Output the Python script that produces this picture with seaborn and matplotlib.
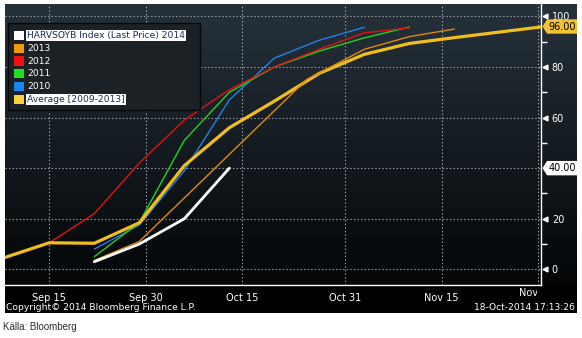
import numpy as np
import pandas as pd
import matplotlib
matplotlib.use("Agg")
import matplotlib.pyplot as plt
import matplotlib.dates as mdates
from matplotlib.patches import Rectangle, Polygon
from matplotlib.transforms import blended_transform_factory, Bbox, TransformedBbox
import seaborn as sns

# Soybean harvest progress (% harvested), each season mapped onto the 2014 calendar
dates_2014 = ["2014-09-22", "2014-09-29", "2014-10-06", "2014-10-13"]
vals_2014 = [3, 10, 20, 40]

dates_2013 = ["2014-09-22", "2014-09-29", "2014-10-25", "2014-11-03", "2014-11-10", "2014-11-17"]
vals_2013 = [3.5, 11, 75, 87, 92, 95]

dates_2012 = ["2014-09-15", "2014-09-22", "2014-09-29", "2014-10-06", "2014-10-13",
              "2014-10-20", "2014-10-27", "2014-11-03", "2014-11-10"]
vals_2012 = [10.5, 22, 42, 59, 71, 80, 87, 93.5, 95.5]

dates_2011 = ["2014-09-22", "2014-09-29", "2014-10-06", "2014-10-13", "2014-10-20",
              "2014-10-27", "2014-11-03", "2014-11-10"]
vals_2011 = [5, 18.5, 51, 70, 80, 86.3, 91.5, 95.8]

dates_2010 = ["2014-09-22", "2014-09-29", "2014-10-06", "2014-10-13", "2014-10-20",
              "2014-10-27", "2014-11-03"]
vals_2010 = [8, 17.5, 39, 67, 83.5, 90.6, 95.7]

dates_avg = ["2014-09-08", "2014-09-15", "2014-09-22", "2014-09-29", "2014-10-06",
             "2014-10-13", "2014-10-20", "2014-10-27", "2014-11-03", "2014-11-10",
             "2014-11-17", "2014-11-24", "2014-12-01"]
vals_avg = [4.6, 10.5, 10.3, 18.4, 41, 56, 66.5, 77.5, 85, 89.3, 91.6, 93.8, 96]

legend_labels = ["HARVSOYB Index (Last Price) 2014", "2013", "2012", "2011", "2010",
                 "Average [2009-2013]"]
x_tick_dates = ["2014-09-15", "2014-09-30", "2014-10-15", "2014-10-31", "2014-11-15", "2014-11-30"]
x_tick_labels = ["Sep 15", "Sep 30", "Oct 15", "Oct 31", "Nov 15", "Nov 30"]
y_ticks = [0, 20, 40, 60, 80, 100]
last_2014 = vals_2014[-1]
last_avg = vals_avg[-1]

W, H = 582, 338
sns.set_theme(style="dark")
plt.rcParams["font.family"] = ["DejaVu Sans"]

fig = plt.figure(figsize=(W / 100, H / 100), dpi=100, facecolor="white")


def fx(px):
    return px / W


def fy(py):
    return 1 - py / H


# dark terminal panel with a vertical gradient
panel_l, panel_t, panel_r, panel_b = 5, 4, 577, 313
bg = fig.add_axes([fx(panel_l), fy(panel_b), fx(panel_r - panel_l), (panel_b - panel_t) / H], zorder=-10)
rows = panel_b - panel_t
top_c = np.array([0.15, 0.195, 0.23])
bot_c = np.array([0.012, 0.02, 0.027])
grad = np.zeros((rows, 1, 3))
for r in range(rows):
    y = panel_t + r
    if y < 285:
        t = (y - panel_t) / (285 - panel_t)
        grad[r, 0] = top_c * (1 - t) + bot_c * t
    else:
        grad[r, 0] = 0.0
bg.imshow(grad, aspect="auto", extent=[0, 1, 0, 1], interpolation="bilinear")
bg.set_axis_off()

# main plotting area
ax_l, ax_r, ax_t, ax_b = 5, 540.7, 4, 285
ax = fig.add_axes([fx(ax_l), fy(ax_b), fx(ax_r - ax_l), (ax_b - ax_t) / H])
ax.set_facecolor("none")

series = [
    (dates_2010, vals_2010, "#1f82e6", 1.0, 2),
    (dates_2011, vals_2011, "#1ed21e", 1.0, 3),
    (dates_2012, vals_2012, "#e81010", 1.0, 4),
    (dates_avg, vals_avg, "#f2be1e", 2.3, 5),
    (dates_2013, vals_2013, "#e08a10", 1.0, 6),
    (dates_2014, vals_2014, "#ffffff", 2.0, 7),
]
for d, v, c, lw, z in series:
    sns.lineplot(x=pd.to_datetime(d), y=v, ax=ax, color=c, linewidth=lw,
                 estimator=None, zorder=z, solid_joinstyle="miter")

sep15 = mdates.date2num(pd.Timestamp("2014-09-15"))
ax.set_xlim(sep15 - 6.89, sep15 + 76.42)
ax.set_ylim(-6.2, 104.9)

xt = [mdates.date2num(pd.Timestamp(d)) for d in x_tick_dates]
ax.set_xticks(xt)
ax.set_xticklabels(x_tick_labels[:-1] + [""])
ax.set_yticks(y_ticks)
# the 40 label sits under the last-price tag
ax.set_yticklabels([("" if yv == last_2014 else str(yv)) for yv in y_ticks])
ax.set_yticks([10, 30, 50, 70, 90], minor=True)
ax.yaxis.tick_right()
ax.tick_params(axis="x", colors="white", labelsize=7, length=4, width=1, pad=2, direction="out")
ax.tick_params(axis="y", which="major", colors="white", labelsize=7, length=0, pad=8)
ax.tick_params(axis="y", which="minor", colors="white", length=4, width=1, direction="out")
for lab in ax.get_yticklabels():
    lab.set_color("white")
ax.set_xlabel("")
ax.set_ylabel("")

ax.grid(True, which="major", color="#a0a6aa", linestyle=(0, (1.2, 2.0)), linewidth=0.8)
ax.set_axisbelow(True)
for s in ["top", "left"]:
    ax.spines[s].set_visible(False)
for s in ["bottom", "right"]:
    ax.spines[s].set_visible(True)
    ax.spines[s].set_color("white")
    ax.spines[s].set_linewidth(1.0)

# last x label is cut by the right axis
clip = TransformedBbox(Bbox.from_extents(0, 0, fx(537), 1), fig.transFigure)
tx = fig.text(fx(536), fy(293), x_tick_labels[-1], color="white", fontsize=7,
              ha="center", va="center")
tx.set_clip_box(clip)
tx.set_clip_on(True)

# pointer marks beside the right-axis labels
bt = blended_transform_factory(fig.transFigure, ax.transData)
for yv in y_ticks:
    if yv == last_2014:
        continue
    ax.plot([fx(545)], [yv], marker="<", markersize=3.5, color="white",
            transform=bt, clip_on=False, zorder=8)


def value_tag(val, face):
    half = 7.2 / 2.53
    pts = [(fx(542.5), val), (fx(547), val + half), (fx(577), val + half),
           (fx(577), val - half), (fx(547), val - half)]
    ax.add_patch(Polygon(pts, closed=True, facecolor=face, edgecolor="none",
                         transform=bt, clip_on=False, zorder=9))
    ax.text(fx(562), val, f"{val:.2f}", transform=bt, color="black", fontsize=7,
            ha="center", va="center", zorder=10, clip_on=False)


value_tag(last_avg, "#f2c12e")
value_tag(last_2014, "#ffffff")

# legend box
lg_l, lg_t, lg_r, lg_b = 7.5, 23.5, 200, 110.5
fig.patches.append(Rectangle((fx(lg_l), fy(lg_b)), fx(lg_r - lg_l), (lg_b - lg_t) / H,
                             transform=fig.transFigure, facecolor="#1c2125",
                             edgecolor="#050708", linewidth=1.0, zorder=20))
legend_colors = ["#ffffff", "#f39a0c", "#f01010", "#1ee01e", "#1a86f0", "#f8d040"]
highlight = [True, False, False, False, False, True]
row_y = [35.3, 48.2, 61.0, 73.8, 86.6, 99.4]
for lab, col, hl, ry in zip(legend_labels, legend_colors, highlight, row_y):
    fig.patches.append(Rectangle((fx(14), fy(ry + 4.5)), fx(10), 9 / H,
                                 transform=fig.transFigure, facecolor=col,
                                 edgecolor="none", zorder=21))
    t = fig.text(fx(27), fy(ry), lab, fontsize=6.6, va="center", ha="left",
                 color="#1a2a55" if hl else "white", zorder=22)
    if hl:
        t.set_bbox(dict(facecolor="white", edgecolor="none", pad=0.6))

# footer
fig.text(fx(6), fy(307), "Copyright\u00a9 2014 Bloomberg Finance L.P.", color="white",
         fontsize=6.6, ha="left", va="center")
fig.text(fx(575), fy(307), "18-Oct-2014 17:13:26", color="white", fontsize=6.6,
         ha="right", va="center")
fig.text(fx(3), fy(327.5), "Källa: Bloomberg", color="#2b2b2b", fontsize=7,
         ha="left", va="center", family=["Liberation Sans Narrow", "Liberation Sans", "DejaVu Sans"])

fig.savefig("out.png", dpi=100, facecolor="white")
